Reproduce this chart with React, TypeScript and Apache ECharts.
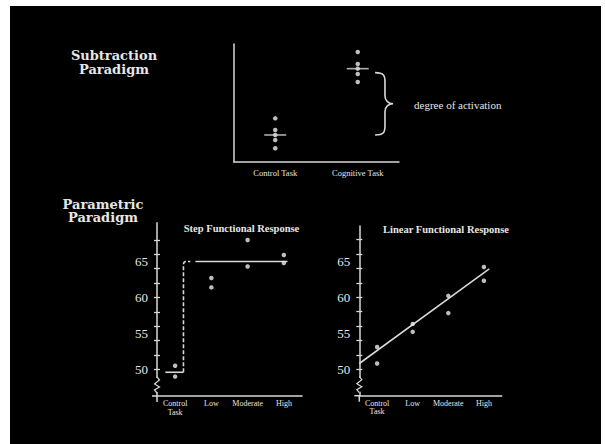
import React, { useEffect, useRef } from "react";
import * as echarts from "echarts";

// ---------- data ----------
const topCategories = ["Control Task", "Cognitive Task"];
const controlTaskScores = [37, 27.1, 22.9, 18.6, 11.6];
const cognitiveTaskScores = [93.2, 83.1, 79.1, 74.6, 67.8];
const taskMeans = [22.9, 79.1];

const levelCategories = ["Control\nTask", "Low", "Moderate", "High"];
const stepUpperValues = [50.5, 62.7, 68.0, 65.9];
const stepLowerValues = [49.0, 61.4, 64.3, 64.8];
const stepLevels = [49.6, 65];

const linearUpperValues = [53.1, 56.3, 60.2, 64.2];
const linearLowerValues = [50.8, 55.2, 57.8, 62.3];
const linearFitEnds = [52.6, 63.4]; // fitted value at "Control Task" and at "High"

const yLabelValues = [50, 55, 60, 65];
const yTickValues = [50, 52, 54, 56, 58, 60, 62, 64, 66, 68];

// ---------- styles ----------
const TEXT = "#e6e6e6";
const LINE = "#d8d8d8";
const SERIF = "'Liberation Serif', 'Times New Roman', serif";
const HEAD = "'DejaVu Serif', serif";

function axisDecor(params: any, api: any) {
  const cs = params.coordSys;
  const x = cs.x;
  const b = cs.y + cs.height;
  const top = b - 19;
  const bot = b - 3;
  return {
    type: "group",
    children: [
      { type: "line", shape: { x1: x, y1: b, x2: x, y2: b + 6 }, style: { stroke: LINE, lineWidth: 1.5 } },
      { type: "line", shape: { x1: x - 5, y1: b, x2: x, y2: b }, style: { stroke: LINE, lineWidth: 1.5 } },
      { type: "rect", shape: { x: x - 2, y: top + 1, width: 4, height: bot - top - 2 }, style: { fill: "#000" } },
      {
        type: "polyline",
        shape: {
          points: [
            [x, top],
            [x + 2.5, top + 3],
            [x - 2.5, top + 7],
            [x + 2.5, top + 10],
            [x - 2.5, top + 13],
            [x, bot],
          ],
        },
        style: { stroke: LINE, lineWidth: 1.2, fill: "none" },
      },
    ],
  };
}

function renderStep(params: any, api: any) {
  const band = api.size([1, 0])[0];
  const p0 = api.coord([0, stepLevels[0]]);
  const p1 = api.coord([0, stepLevels[1]]);
  const pLow = api.coord([1, stepLevels[1]]);
  const pHigh = api.coord([3, stepLevels[1]]);
  const xd = p0[0] + 0.23 * band;
  const r = 3;
  return {
    type: "group",
    children: [
      { type: "line", shape: { x1: p0[0] - 0.27 * band, y1: p0[1], x2: xd, y2: p0[1] }, style: { stroke: LINE, lineWidth: 1.6 } },
      {
        type: "path",
        shape: {
          pathData: `M${xd} ${p0[1]} L${xd} ${p1[1] + r} Q${xd} ${p1[1]} ${xd + r} ${p1[1]} L${p0[0] + 0.42 * band} ${p1[1]}`,
        },
        style: { stroke: LINE, lineWidth: 1.6, fill: "none", lineDash: [4, 2] },
      },
      { type: "line", shape: { x1: pLow[0] - 0.44 * band, y1: p1[1], x2: pHigh[0] + 0.1 * band, y2: p1[1] }, style: { stroke: LINE, lineWidth: 1.6 } },
    ],
  };
}

function renderFit(params: any, api: any) {
  const cs = params.coordSys;
  const band = api.size([1, 0])[0];
  const c0 = api.coord([0, linearFitEnds[0]]);
  const c3 = api.coord([3, linearFitEnds[1]]);
  const slope = (c3[1] - c0[1]) / (c3[0] - c0[0]);
  const xs = cs.x;
  const xe = c3[0] + 0.15 * band;
  return {
    type: "line",
    shape: { x1: xs, y1: c0[1] + slope * (xs - c0[0]), x2: xe, y2: c0[1] + slope * (xe - c0[0]) },
    style: { stroke: LINE, lineWidth: 1.6 },
  };
}

function renderBrace(params: any, api: any) {
  const band = api.size([1, 0])[0];
  const a = api.coord([1, taskMeans[1]]);
  const c = api.coord([1, taskMeans[0]]);
  const x0 = a[0] + 0.21 * band;
  const y1 = a[1] + 4;
  const y2 = c[1];
  const ym = (y1 + y2) / 2;
  const w = 18;
  const xm = x0 + w * 0.55;
  const d =
    `M${x0} ${y1} C${x0 + w * 0.5} ${y1} ${xm} ${y1 + 3} ${xm} ${y1 + 9} ` +
    `L${xm} ${ym - 8} C${xm} ${ym - 3} ${x0 + w * 0.75} ${ym} ${x0 + w} ${ym} ` +
    `C${x0 + w * 0.75} ${ym} ${xm} ${ym + 3} ${xm} ${ym + 8} ` +
    `L${xm} ${y2 - 9} C${xm} ${y2 - 3} ${x0 + w * 0.5} ${y2} ${x0} ${y2}`;
  return {
    type: "group",
    children: [
      { type: "path", shape: { pathData: d }, style: { stroke: LINE, lineWidth: 1.6, fill: "none" } },
      {
        type: "text",
        x: x0 + w + 21,
        y: ym + 1,
        style: { text: "degree of activation", fill: TEXT, font: `11px ${SERIF}`, verticalAlign: "middle", align: "left" },
      },
    ],
  };
}

const dotStyle = { color: "#eeeeee" };

function valueAxes(gridIndex: number, min: number, max: number) {
  return [
    {
      type: "value",
      gridIndex,
      position: "left",
      min,
      max,
      axisLine: { show: true, lineStyle: { color: LINE, width: 1.5 } },
      axisTick: { show: true, customValues: yTickValues, length: 3, lineStyle: { color: LINE, width: 1.3 } },
      axisLabel: { show: true, customValues: yLabelValues, color: TEXT, fontFamily: SERIF, fontSize: 13, margin: 9 },
      splitLine: { show: false },
    },
    {
      type: "value",
      gridIndex,
      position: "left",
      offset: 0,
      min,
      max,
      axisLine: { show: false },
      axisTick: { show: true, inside: true, customValues: yTickValues, length: 3, lineStyle: { color: LINE, width: 1.3 } },
      axisLabel: { show: false },
      splitLine: { show: false },
    },
  ];
}

function catAxis(gridIndex: number, data: string[], fontSize: number, margin: number) {
  return {
    type: "category",
    gridIndex,
    data,
    boundaryGap: true,
    axisLine: { show: true, lineStyle: { color: LINE, width: 1.5 } },
    axisTick: { show: false },
    axisLabel: { color: TEXT, fontFamily: SERIF, fontSize, margin, lineHeight: fontSize + 0.5, interval: 0 },
    splitLine: { show: false },
  };
}

export default function App() {
  const ref = useRef<HTMLDivElement>(null);
  useEffect(() => {
    if (!ref.current) return;
    const chart = echarts.init(ref.current, null, { renderer: "svg" });
    const option: any = {
      animation: false,
      backgroundColor: "transparent",
      grid: [
        { left: 234, top: 44, width: 165, height: 118 },
        { left: 157, top: 222.7, width: 145, height: 173.3 },
        { left: 359.3, top: 226, width: 142.4, height: 169.7 },
      ],
      xAxis: [
        catAxis(0, topCategories, 8.5, 6),
        catAxis(1, levelCategories, 8, 3.5),
        catAxis(2, levelCategories, 8, 3.5),
      ],
      yAxis: [
        {
          type: "value",
          gridIndex: 0,
          min: 0,
          max: 100,
          axisLine: { show: true, lineStyle: { color: LINE, width: 1.5 } },
          axisTick: { show: false },
          axisLabel: { show: false },
          splitLine: { show: false },
        },
        ...valueAxes(1, 46.3, 70.4),
        ...valueAxes(2, 46.33, 69.9),
      ],
      graphic: [
        {
          type: "text",
          x: 114,
          y: 62.5,
          style: {
            text: "Subtraction\nParadigm",
            fill: TEXT,
            font: `bold 13px ${HEAD}`,
            lineHeight: 14.3,
            align: "center",
            verticalAlign: "middle",
          },
        },
        {
          type: "text",
          x: 103,
          y: 211,
          style: {
            text: "Parametric\nParadigm",
            fill: TEXT,
            font: `bold 13px ${HEAD}`,
            lineHeight: 13.7,
            align: "center",
            verticalAlign: "middle",
          },
        },
        {
          type: "text",
          x: 241.5,
          y: 228.5,
          style: { text: "Step Functional Response", fill: TEXT, font: `bold 10.5px ${SERIF}`, align: "center", verticalAlign: "middle" },
        },
        {
          type: "text",
          x: 446,
          y: 229.5,
          style: { text: "Linear Functional Response", fill: TEXT, font: `bold 10.5px ${SERIF}`, align: "center", verticalAlign: "middle" },
        },
      ],
      series: [
        // top: subtraction paradigm
        {
          type: "scatter",
          xAxisIndex: 0,
          yAxisIndex: 0,
          symbolSize: 4.5,
          itemStyle: dotStyle,
          data: [
            ...controlTaskScores.map((v) => [0, v]),
            ...cognitiveTaskScores.map((v) => [1, v]),
          ],
        },
        {
          type: "scatter",
          xAxisIndex: 0,
          yAxisIndex: 0,
          symbol: "rect",
          symbolSize: [22, 1.6],
          itemStyle: { color: LINE },
          data: taskMeans.map((v, i) => [i, v]),
        },
        {
          type: "custom",
          xAxisIndex: 0,
          yAxisIndex: 0,
          renderItem: renderBrace,
          data: [[1, taskMeans[1]]],
        },
        // step functional response
        {
          type: "custom",
          xAxisIndex: 1,
          yAxisIndex: 1,
          renderItem: axisDecor,
          data: [[0, stepLevels[0]]],
          z: 3,
        },
        {
          type: "custom",
          xAxisIndex: 1,
          yAxisIndex: 1,
          renderItem: renderStep,
          data: [[0, stepLevels[0]]],
        },
        {
          type: "scatter",
          xAxisIndex: 1,
          yAxisIndex: 1,
          symbolSize: 4.5,
          itemStyle: dotStyle,
          z: 4,
          data: [
            ...stepUpperValues.map((v, i) => [i, v]),
            ...stepLowerValues.map((v, i) => [i, v]),
          ],
        },
        // linear functional response
        {
          type: "custom",
          xAxisIndex: 2,
          yAxisIndex: 3,
          renderItem: axisDecor,
          data: [[0, linearFitEnds[0]]],
          z: 3,
        },
        {
          type: "custom",
          xAxisIndex: 2,
          yAxisIndex: 3,
          renderItem: renderFit,
          data: [[0, linearFitEnds[0]]],
        },
        {
          type: "scatter",
          xAxisIndex: 2,
          yAxisIndex: 3,
          symbolSize: 4.5,
          itemStyle: dotStyle,
          z: 4,
          data: [
            ...linearUpperValues.map((v, i) => [i, v]),
            ...linearLowerValues.map((v, i) => [i, v]),
          ],
        },
      ],
    };
    chart.setOption(option);
    return () => chart.dispose();
  }, []);

  return (
    <div style={{ position: "fixed", left: 0, top: 0, width: 605, height: 444, background: "#fff", overflow: "hidden" }}>
      <div style={{ position: "absolute", left: 10, top: 6, width: 591, height: 438, background: "#000" }} />
      <div ref={ref} style={{ position: "absolute", left: 0, top: 0, width: 605, height: 444 }} />
    </div>
  );
}
